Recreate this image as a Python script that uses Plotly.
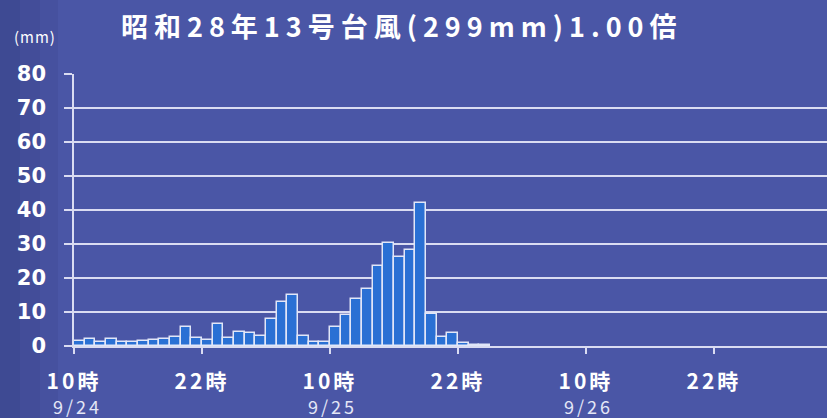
import plotly.graph_objects as go

# hourly rainfall (mm), first bar = 10時 9/24
rain = [1.5, 2.2, 1.2, 2.0, 1.1, 1.1, 1.6, 1.9, 2.2, 2.6,
        5.5, 2.5, 1.9, 6.4, 2.3, 4.2, 3.7, 2.9, 7.9, 13.0,
        15.1, 2.9, 1.3, 1.2, 5.6, 9.0, 13.7, 16.9, 23.5, 30.2,
        26.2, 28.2, 42.2, 9.4, 2.6, 3.8, 0.9, 0.4, 0.2]
hours = [i + 0.5 for i in range(len(rain))]

tick_vals = [0, 12, 24, 36, 48, 60]
tick_text = ["10時", "22時", "10時", "22時", "10時", "22時"]
date_vals = [0, 24, 48]
date_text = ["9/24", "9/25", "9/26"]
y_ticks = [0, 10, 20, 30, 40, 50, 60, 70, 80]

title_text = "昭和28年13号台風(299mm)1.00倍"

grid_c = "rgba(225,228,245,0.95)"
font_f = "Noto Sans CJK JP"

W, H = 827, 418
L, R, T, B = 74, 0, 74, 72
PW, PH = W - L - R, H - T - B


def px(x):
    return (x - L) / PW


def py(y):
    return (H - B - y) / PH


def spaced(t, s):
    return f'<span style="letter-spacing:{s}px">{t}</span>'


fig = go.Figure()
fig.add_trace(go.Bar(
    x=hours, y=rain, width=1.0,
    marker=dict(color="rgb(42,112,212)", line=dict(color="rgb(225,230,248)", width=1.5)),
))

fig.update_layout(
    width=W, height=H,
    margin=dict(l=L, r=R, t=T, b=B),
    paper_bgcolor="rgb(74,86,166)",
    plot_bgcolor="rgba(0,0,0,0)",
    showlegend=False,
    bargap=0,
    font=dict(family=font_f, color="white"),
    xaxis=dict(range=[0, 70.6], tickvals=tick_vals, ticktext=[spaced(t, 3) for t in tick_text],
               showgrid=False, zeroline=False, showline=True, linecolor=grid_c, linewidth=1.5,
               ticks="outside", ticklen=6, tickcolor=grid_c, tickwidth=1.5,
               ticklabelstandoff=10, ticklabelshift=0,
               tickfont=dict(size=21, color="white", family=font_f, weight="bold")),
    yaxis=dict(range=[0, 80], tickvals=y_ticks, showgrid=True, gridcolor=grid_c, gridwidth=1.5,
               zeroline=False, showline=True, linecolor=grid_c, linewidth=1.5,
               ticks="outside", ticklen=8, tickcolor=grid_c, tickwidth=1.5,
               ticklabelstandoff=14,
               tickfont=dict(size=21, color="white", family="DejaVu Sans", weight="bold")),
)

# darker left edge of background (graded strips)
for x0, x1, a in [(0, 20, 0.22), (20, 40, 0.15), (40, 58, 0.08)]:
    fig.add_shape(type="rect", xref="paper", yref="paper", x0=px(x0), x1=px(x1), y0=py(H), y1=py(0),
                  fillcolor=f"rgba(25,30,80,{a})", line=dict(width=0), layer="below")

for v, t in zip(date_vals, date_text):
    fig.add_annotation(x=v, y=py(406), xref="x", yref="paper", text=spaced(t, 3), showarrow=False,
                       yanchor="middle", xshift=3,
                       font=dict(size=18, color="rgb(228,230,246)", family=font_f))

fig.add_annotation(x=px(402), y=py(26), xref="paper", yref="paper", text=spaced(title_text, 6),
                   showarrow=False, xanchor="center", yanchor="middle",
                   font=dict(size=27, color="white", family=font_f, weight="bold"))
fig.add_annotation(x=px(35), y=py(36), xref="paper", yref="paper", text=spaced("(mm)", 1),
                   showarrow=False, xanchor="center", yanchor="middle",
                   font=dict(size=15, color="white", family=font_f))

fig.write_html("out.html")
